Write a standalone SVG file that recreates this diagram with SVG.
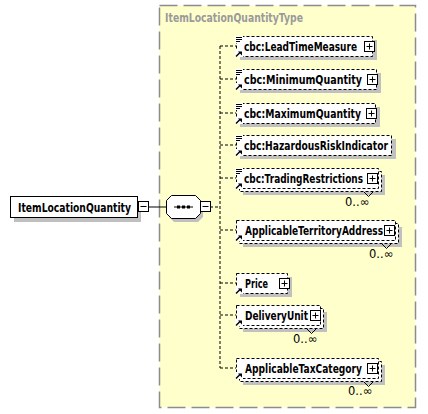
<svg xmlns="http://www.w3.org/2000/svg" width="428" height="414" viewBox="0 0 428 414">
<defs>
<style>
.t{font-family:"DejaVu Sans","Liberation Sans",Arial,sans-serif;font-size:11.5px;font-weight:bold;fill:#000}
.title{font-family:"DejaVu Sans","Liberation Sans",Arial,sans-serif;font-size:11.5px;font-weight:bold;fill:#9a9a9a}
.m{font-family:"DejaVu Sans","Liberation Sans",Arial,sans-serif;font-size:11.5px;fill:#000}
.box{fill:#fff;stroke:#000;stroke-width:1;stroke-dasharray:3,2}
.sh{fill:#c0c0c0}
.pm{fill:#fff;stroke:#000;stroke-width:1}
.cn{fill:none;stroke:#000;stroke-width:1;stroke-dasharray:3,2}
.ln{fill:none;stroke:#000;stroke-width:1}
</style>
<g id="plus"><rect class="pm" x="0" y="0" width="10" height="10"/><path class="ln" d="M2,5H8M5,2V8"/></g>
<g id="minus"><rect class="pm" x="0" y="0" width="10" height="10"/><path class="ln" d="M2,5H8"/></g>
<g id="doc"><rect x="0" y="0" width="8" height="7" fill="#fff"/><path class="ln" d="M1,1.5H7M1,3.5H7M1,5.5H5"/></g>
<g id="arr"><rect x="0" y="0" width="8" height="7" fill="#fff"/><path d="M1,6.5L5.5,2" stroke="#000" stroke-width="1.5"/><path d="M3,1.5H7V5.5Z" fill="#000"/></g>
</defs>

<g id="typebox">
<rect x="159.5" y="5.5" width="256" height="402" fill="#ffffcc" stroke="#8c8c8c" stroke-width="1.5" stroke-dasharray="18,6"/>
<text class="title" x="165" y="22" textLength="138" lengthAdjust="spacingAndGlyphs">ItemLocationQuantityType</text>
</g>

<g id="connectors">
<path class="ln" d="M148,207H166"/>
<path class="cn" d="M210,207H220M220,46V368M220,46H236M220,79H236M220,113H236M220,145H236M220,178H236M220,230H236M220,283H236M220,315H236M220,368H236"/>
</g>

<g id="root">
<rect class="sh" x="14" y="201" width="127" height="21"/>
<rect x="10.5" y="196.5" width="127" height="21" fill="#fff" stroke="#000"/>
<text class="t" x="18" y="211.5" textLength="113" lengthAdjust="spacingAndGlyphs">ItemLocationQuantity</text>
<use href="#minus" x="138.5" y="201.5"/>
</g>

<g id="sequence">
<path class="sh" d="M174,199H198L203,204V217L198,222H174L169,217V204Z"/>
<path d="M171.5,195.5H195.5L200.5,200.5V213.5L195.5,218.5H171.5L166.5,213.5V200.5Z" fill="#fff" stroke="#000"/>
<path class="ln" d="M174,207H193"/>
<rect x="177" y="205.5" width="3" height="3" fill="#000"/>
<rect x="182" y="205.5" width="3" height="3" fill="#000"/>
<rect x="187" y="205.5" width="3" height="3" fill="#000"/>
<use href="#minus" x="200.5" y="201.5"/>
</g>

<g id="LeadTimeMeasure">
<rect class="sh" x="240" y="40" width="137" height="20"/>
<rect class="box" x="236.5" y="36.5" width="136" height="20"/>
<use href="#doc" x="235" y="36"/><use href="#arr" x="235" y="50"/>
<text class="t" x="244" y="51" textLength="113" lengthAdjust="spacingAndGlyphs">cbc:LeadTimeMeasure</text>
<use href="#plus" x="364.5" y="41.5"/>
</g>

<g id="MinimumQuantity">
<rect class="sh" x="240" y="73" width="141" height="20"/>
<rect class="box" x="236.5" y="69.5" width="140" height="20"/>
<use href="#doc" x="235" y="69"/><use href="#arr" x="235" y="83"/>
<text class="t" x="244" y="84" textLength="118" lengthAdjust="spacingAndGlyphs">cbc:MinimumQuantity</text>
<use href="#plus" x="367.5" y="74.5"/>
</g>

<g id="MaximumQuantity">
<rect class="sh" x="240" y="107" width="140" height="20"/>
<rect class="box" x="236.5" y="103.5" width="139" height="20"/>
<use href="#doc" x="235" y="103"/><use href="#arr" x="235" y="117"/>
<text class="t" x="244" y="118" textLength="117" lengthAdjust="spacingAndGlyphs">cbc:MaximumQuantity</text>
<use href="#plus" x="366.5" y="108.5"/>
</g>

<g id="HazardousRiskIndicator">
<rect class="sh" x="240" y="139" width="156" height="20"/>
<rect class="box" x="236.5" y="135.5" width="155" height="20"/>
<use href="#doc" x="235" y="135"/><use href="#arr" x="235" y="149"/>
<text class="t" x="244" y="150" textLength="144" lengthAdjust="spacingAndGlyphs">cbc:HazardousRiskIndicator</text>
</g>

<g id="TradingRestrictions">
<rect class="sh" x="243" y="175" width="142" height="20"/>
<rect class="box" x="239.5" y="171.5" width="142" height="20"/>
<rect class="box" x="236.5" y="168.5" width="142" height="20"/>
<use href="#doc" x="235" y="168"/><use href="#arr" x="235" y="182"/>
<text class="t" x="244" y="183" textLength="119" lengthAdjust="spacingAndGlyphs">cbc:TradingRestrictions</text>
<use href="#plus" x="367.5" y="173.5"/>
<path class="ln" d="M364,192L368.5,196.5L373,192"/>
<text class="m" x="345" y="206">0..∞</text>
</g>

<g id="ApplicableTerritoryAddress">
<rect class="sh" x="243" y="227" width="159" height="20"/>
<rect class="box" x="239.5" y="223.5" width="159" height="20"/>
<rect class="box" x="236.5" y="220.5" width="159" height="20"/>
<use href="#arr" x="235" y="234"/>
<text class="t" x="245" y="235" textLength="138" lengthAdjust="spacingAndGlyphs">ApplicableTerritoryAddress</text>
<use href="#plus" x="384.5" y="225.5"/>
<path class="ln" d="M382,244L386.5,248.5L391,244"/>
<text class="m" x="369" y="258">0..∞</text>
</g>

<g id="Price">
<rect class="sh" x="240" y="277" width="52" height="20"/>
<rect class="box" x="236.5" y="273.5" width="51" height="20"/>
<use href="#arr" x="235" y="287"/>
<text class="t" x="245" y="288" textLength="23" lengthAdjust="spacingAndGlyphs">Price</text>
<use href="#plus" x="279.5" y="278.5"/>
</g>

<g id="DeliveryUnit">
<rect class="sh" x="243" y="312" width="84" height="20"/>
<rect class="box" x="239.5" y="308.5" width="84" height="20"/>
<rect class="box" x="236.5" y="305.5" width="84" height="20"/>
<use href="#arr" x="235" y="319"/>
<text class="t" x="245" y="320" textLength="63" lengthAdjust="spacingAndGlyphs">DeliveryUnit</text>
<use href="#plus" x="310.5" y="310.5"/>
<path class="ln" d="M307,329L311.5,333.5L316,329"/>
<text class="m" x="293" y="343">0..∞</text>
</g>

<g id="ApplicableTaxCategory">
<rect class="sh" x="243" y="365" width="142" height="20"/>
<rect class="box" x="239.5" y="361.5" width="142" height="20"/>
<rect class="box" x="236.5" y="358.5" width="142" height="20"/>
<use href="#arr" x="235" y="372"/>
<text class="t" x="245" y="373" textLength="117" lengthAdjust="spacingAndGlyphs">ApplicableTaxCategory</text>
<use href="#plus" x="367.5" y="363.5"/>
<path class="ln" d="M364,382L368.5,386.5L373,382"/>
<text class="m" x="348" y="395">0..∞</text>
</g>
</svg>
